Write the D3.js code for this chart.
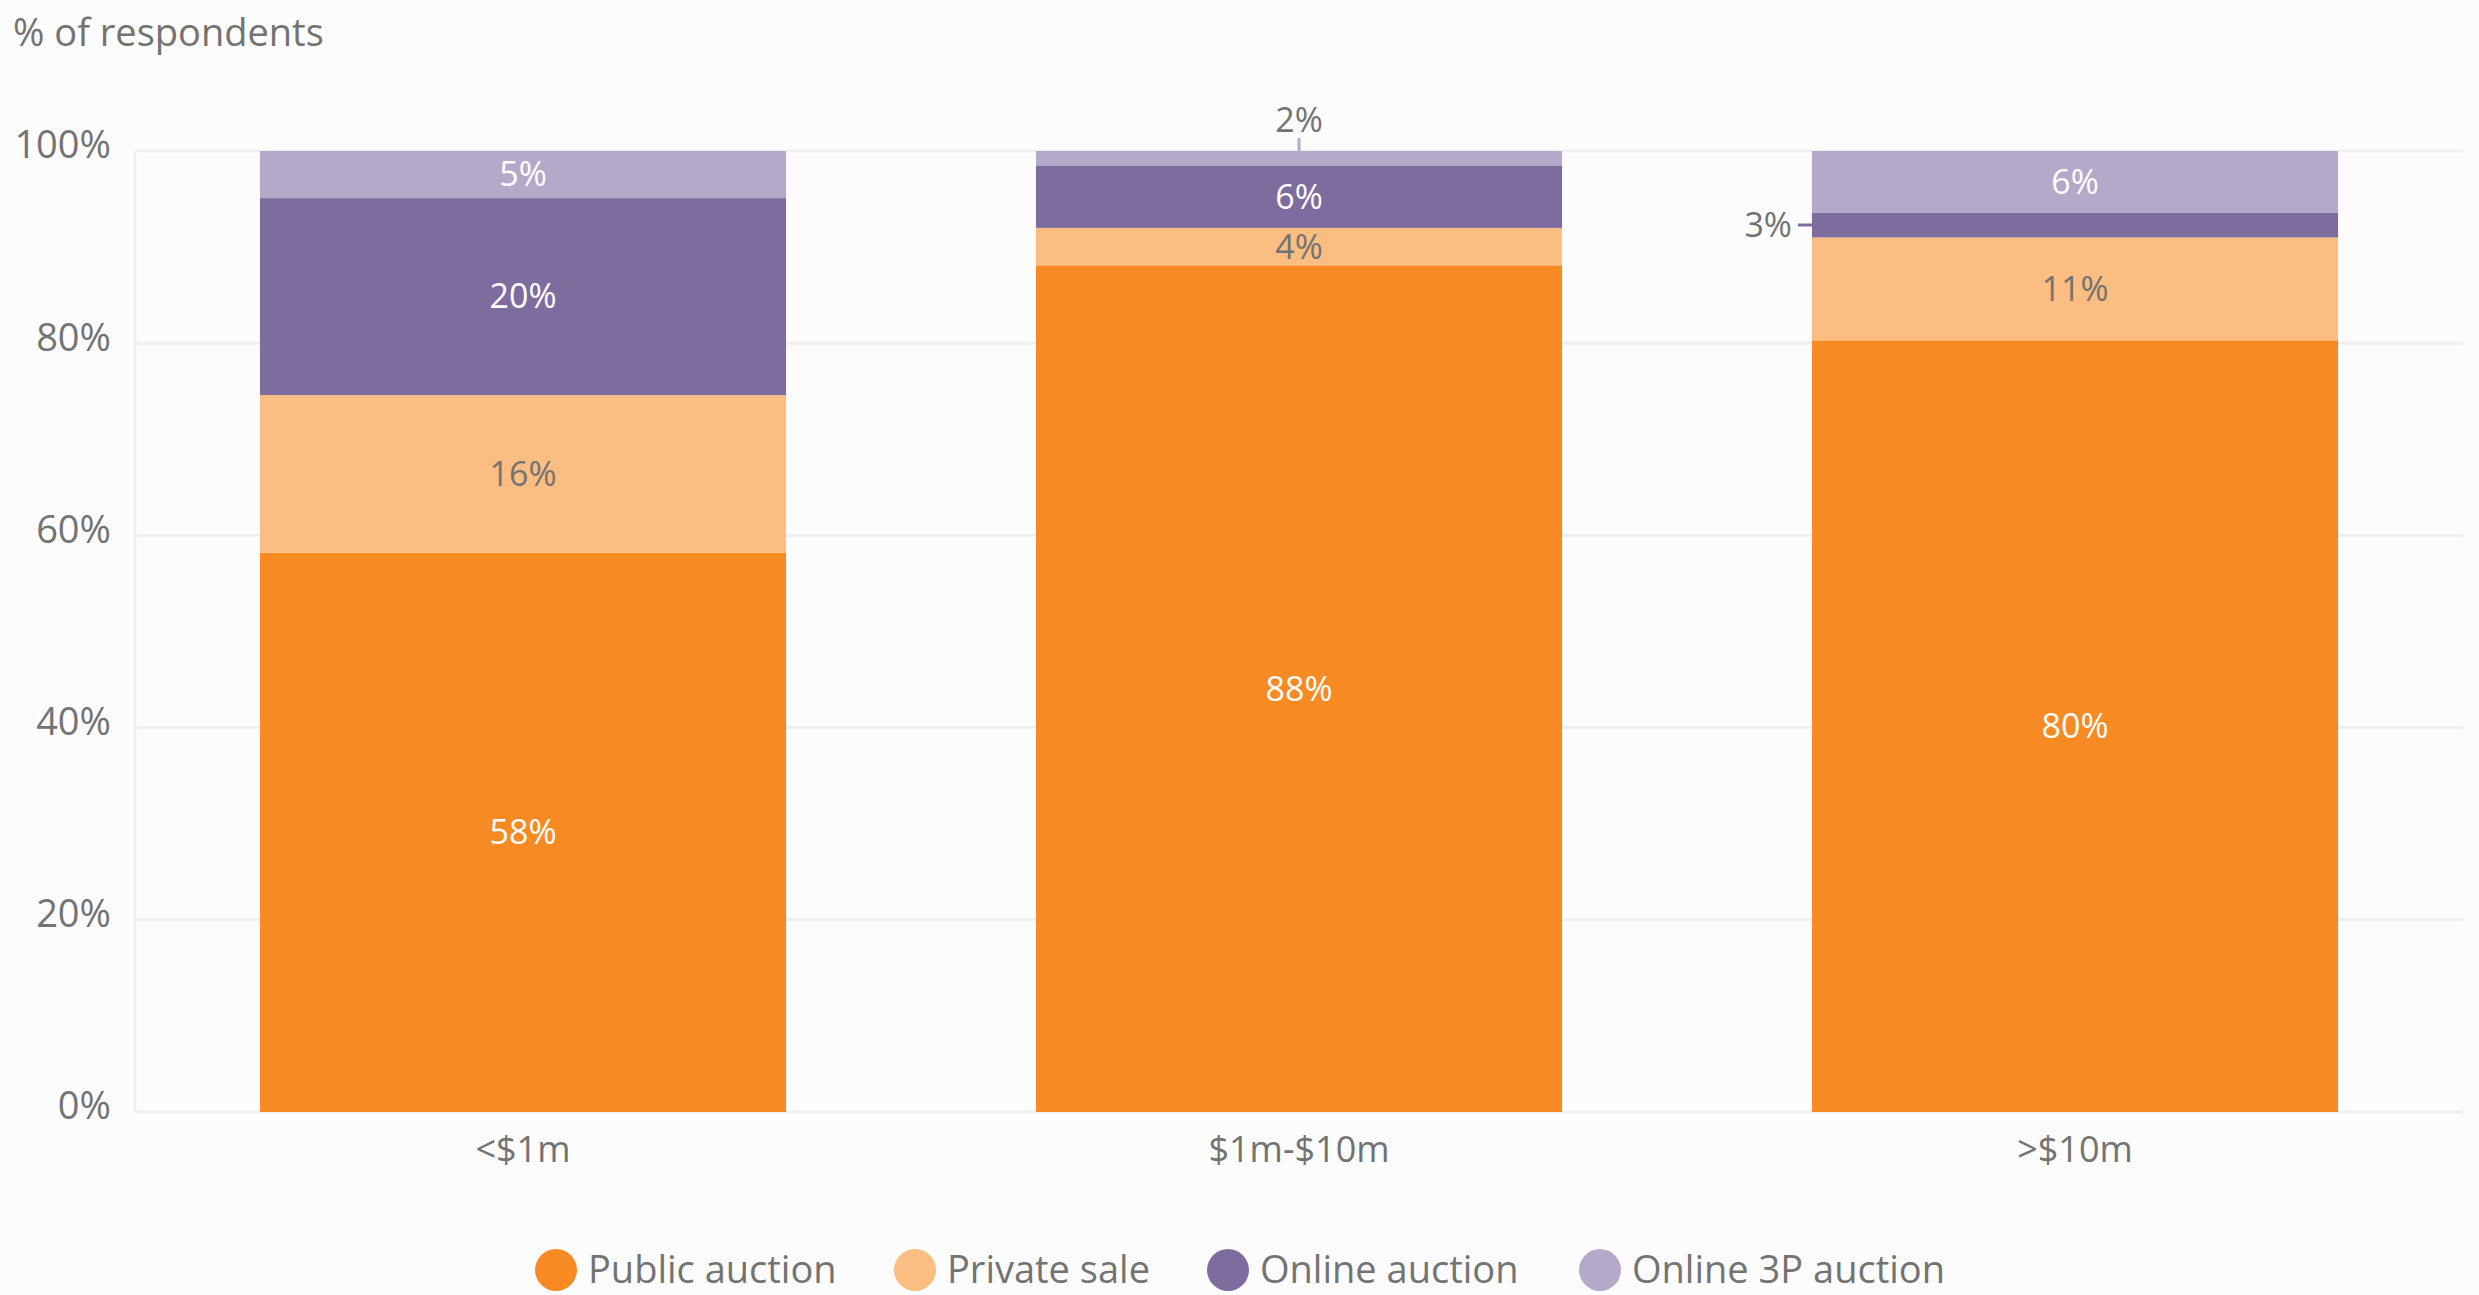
<!DOCTYPE html>
<html><head><meta charset="utf-8">
<script src="https://cdn.jsdelivr.net/npm/d3@7"></script>
<style>
html,body{margin:0;padding:0;background:#fcfcfc;}
svg{display:block;font-family:"Open Sans","Noto Sans",sans-serif;}
</style></head>
<body>
<svg id="chart" width="2479" height="1295"></svg>
<script>
const categories = ["<$1m", "$1m-$10m", ">$10m"];
const seriesNames = ["Public auction", "Private sale", "Online auction", "Online 3P auction"];
const publicAuction = [58.2, 88.1, 80.3];
const privateSale   = [16.4, 3.9, 10.7];
const onlineAuction = [20.5, 6.5, 2.6];
const online3P      = [4.9, 1.5, 6.4];
const labelText = [
  ["58%", "88%", "80%"],
  ["16%", "4%", "11%"],
  ["20%", "6%", "3%"],
  ["5%", "2%", "6%"]
];
const yTicks = [0, 20, 40, 60, 80, 100];
const colors = ["#f78a23", "#fbbd82", "#7f6c9f", "#b5a9c9"];
const labelColors = ["#ffffff", "#737373", "#ffffff", "#ffffff"];

(function () {
const seriesValues = [publicAuction, privateSale, onlineAuction, online3P];
const rows = categories.map((c, i) => {
  const r = {cat: c};
  seriesNames.forEach((s, k) => r[s] = seriesValues[k][i]);
  return r;
});

const svg = d3.select("#chart");
const pLeft = 135, pRight = 2463, pTop = 151, pBottom = 1112;
const x = d3.scaleBand().domain(categories).range([pLeft, pRight]).paddingInner(0.322).paddingOuter(0.161);
const y = d3.scaleLinear().domain([0, 100]).range([pBottom, pTop]);
const txt = "#737373";

// gridlines
svg.append("g").selectAll("line").data(yTicks).join("line")
  .attr("x1", pLeft).attr("x2", pRight)
  .attr("y1", d => y(d)).attr("y2", d => y(d))
  .attr("stroke", "#efefef").attr("stroke-width", 3);
svg.append("line").attr("x1", pLeft).attr("x2", pLeft).attr("y1", pTop).attr("y2", pBottom)
  .attr("stroke", "#efefef").attr("stroke-width", 3);

// y axis labels
const yAxis = d3.axisLeft(y).tickValues(yTicks).tickFormat(d => d + "%").tickSize(0).tickPadding(0);
const ya = svg.append("g").attr("transform", `translate(${111},0)`).call(yAxis);
ya.select(".domain").remove();
ya.selectAll("text").attr("fill", txt).style("font-size", "38px").attr("dy", "0.35em")
  .attr("font-family", "Open Sans");
ya.selectAll(".tick").attr("transform", d => `translate(0,${y(d) - 6})`);

// x axis labels
const xAxis = d3.axisBottom(x).tickSize(0).tickPadding(0);
const xa = svg.append("g").attr("transform", `translate(0,${1149})`).call(xAxis);
xa.select(".domain").remove();
xa.selectAll("text").attr("fill", txt).style("font-size", "36px").attr("dy", "0.35em")
  .attr("font-family", "Open Sans");

// axis title
svg.append("text").attr("x", 13).attr("y", 46).attr("fill", txt)
  .style("font-size", "38px").text("% of respondents");

// stacks
const stack = d3.stack().keys(seriesNames)(rows);
const layers = svg.append("g").selectAll("g").data(stack).join("g")
  .attr("fill", (d, i) => colors[i]);
layers.selectAll("rect").data(d => d).join("rect")
  .attr("x", d => x(d.data.cat))
  .attr("width", x.bandwidth())
  .attr("y", d => y(d[1]))
  .attr("height", d => y(d[0]) - y(d[1]));

// labels
const outside = {"3-1": "top", "2-2": "left"};
stack.forEach((layer, k) => {
  layer.forEach((d, i) => {
    const key = k + "-" + i;
    const cx = x(d.data.cat) + x.bandwidth() / 2;
    const cy = (y(d[0]) + y(d[1])) / 2;
    if (outside[key] === "top") {
      svg.append("line").attr("x1", cx).attr("x2", cx).attr("y1", y(d[1])).attr("y2", y(d[1]) - 13)
        .attr("stroke", colors[k]).attr("stroke-width", 3);
      svg.append("text").attr("x", cx).attr("y", y(d[1]) - 31).attr("dy", "0.35em")
        .attr("text-anchor", "middle").attr("fill", txt).style("font-size", "34px").text(labelText[k][i]);
    } else if (outside[key] === "left") {
      const bx = x(d.data.cat);
      svg.append("line").attr("x1", bx - 14).attr("x2", bx).attr("y1", cy).attr("y2", cy)
        .attr("stroke", colors[k]).attr("stroke-width", 3);
      svg.append("text").attr("x", bx - 20).attr("y", cy).attr("dy", "0.35em")
        .attr("text-anchor", "end").attr("fill", txt).style("font-size", "34px").text(labelText[k][i]);
    } else {
      svg.append("text").attr("x", cx).attr("y", cy).attr("dy", "0.35em")
        .attr("text-anchor", "middle").attr("fill", labelColors[k]).style("font-size", "34px").text(labelText[k][i]);
    }
  });
});

// legend
const legendX = [556, 915, 1228, 1600];
const lg = svg.append("g").selectAll("g").data(seriesNames).join("g")
  .attr("transform", (d, i) => `translate(${legendX[i]},${1270})`);
lg.append("circle").attr("r", 21).attr("fill", (d, i) => colors[i]);
lg.append("text").attr("x", 32).attr("dy", "0.35em").attr("fill", txt)
  .style("font-size", "38px").text(d => d);
})();
</script>
</body></html>
